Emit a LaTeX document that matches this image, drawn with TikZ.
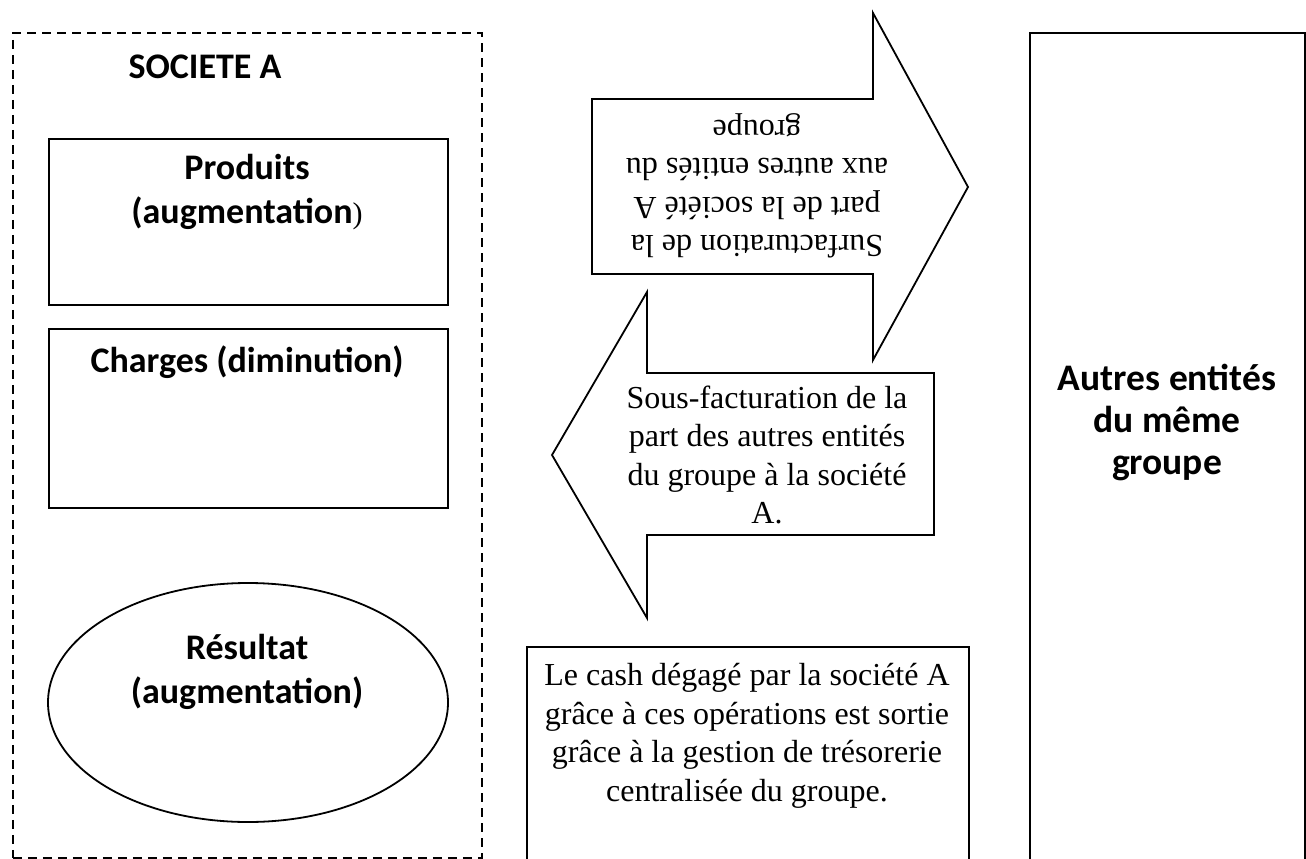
\documentclass[tikz,border=0pt]{standalone}
\usepackage{fontspec}
\setmainfont{Liberation Serif}
\newfontfamily\calib{Carlito}
\newfontfamily\timesf{Liberation Serif}
\usetikzlibrary{shapes.geometric}
\begin{document}
\begin{tikzpicture}[x=1pt,y=-1pt,
  sanslbl/.style={font=\calib\bfseries\fontsize{36}{44}\selectfont, align=center, inner sep=0pt},
  seriflbl/.style={font=\timesf\fontsize{32}{38.5}\selectfont, align=center, inner sep=0pt},
  solidbox/.style={draw=black, line width=1.8pt, fill=white, inner sep=0pt, anchor=north west},
  arrowshape/.style={draw=black, line width=1.8pt, fill=white, line join=miter},
]
\useasboundingbox (0,0) rectangle (1306,859);
\begin{scope}
\clip (0,0) rectangle (1306,859);
% Societe A dashed frame
\node[draw=black, dash pattern=on 9pt off 6pt, line width=1.8pt, inner sep=0pt, anchor=north west,
      minimum width=469pt, minimum height=825pt] (societe) at (12,32) {};
\node[sanslbl] (titre) at (205,67) {SOCIETE A};
% Produits
\node[solidbox, minimum width=399pt, minimum height=166pt] (produits) at (48,138) {};
\node[sanslbl] (produitstxt) at (247,192) {Produits\\(augmentation{\mdseries\timesf\fontsize{30}{36}\selectfont)}};
% Charges
\node[solidbox, minimum width=399pt, minimum height=179pt] (charges) at (48,328) {};
\node[sanslbl] (chargestxt) at (247,362) {Charges (diminution)};
% Resultat
\node[draw=black, line width=1.8pt, ellipse, inner sep=0pt, minimum width=400pt, minimum height=239pt] (resultat) at (248,702.5) {};
\node[sanslbl] (resultattxt) at (247,672) {Résultat\\(augmentation)};
% Right arrow (surfacturation)
\draw[arrowshape] (592,99) -- (873,99) -- (873,13) -- (968,187) -- (873,360) -- (873,274) -- (592,274) -- cycle;
\node[seriflbl, rotate=180] (surfact) at (757,186) {Surfacturation de la\\part de la société A\\aux autres entités du\\groupe};
% Left arrow (sous-facturation)
\draw[arrowshape] (934,373) -- (647,373) -- (647,292) -- (552,455) -- (647,618) -- (647,535) -- (934,535) -- cycle;
\node[seriflbl] (sousfact) at (767,455) {Sous-facturation de la\\part des autres entités\\du groupe à la société\\A.};
% Cash box
\node[solidbox, minimum width=442pt, minimum height=260pt] (cash) at (526,646) {};
\node[seriflbl] (cashtxt) at (747,736) {Le cash dégagé par la société A\\grâce à ces opérations est sortie\\grâce à la gestion de trésorerie\\centralisée du groupe.};
% Autres entites
\node[solidbox, minimum width=275pt, minimum height=870pt] (autres) at (1029,32) {};
\node[sanslbl, font=\calib\bfseries\fontsize{37.5}{42}\selectfont] (autrestxt) at (1167,422) {Autres entités\\du même\\groupe};
\end{scope}
\end{tikzpicture}
\end{document}
